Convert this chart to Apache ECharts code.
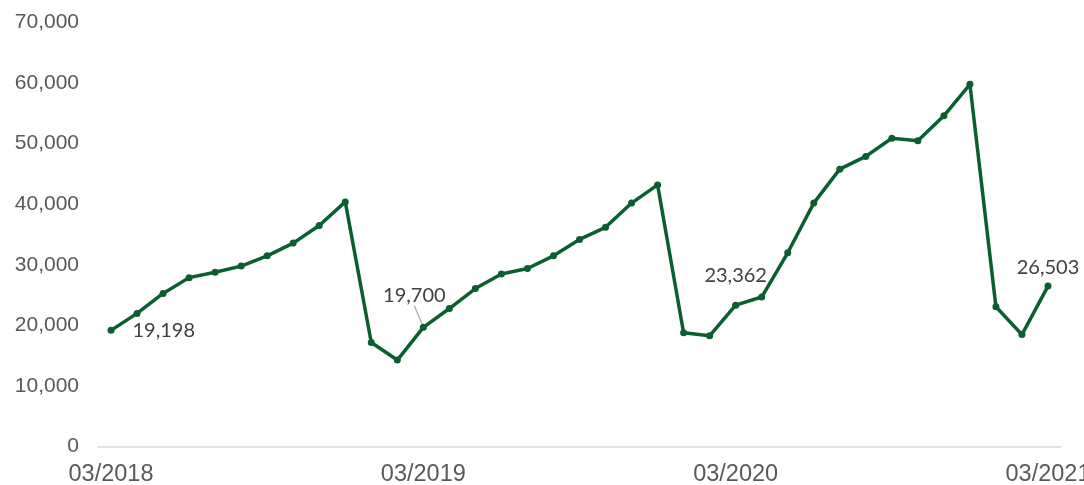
<!DOCTYPE html>
<html>
<head>
<meta charset="utf-8">
<script src="https://cdn.jsdelivr.net/npm/echarts@6/dist/echarts.min.js"></script>
<style>
  html, body { margin: 0; padding: 0; background: #fff; }
  #myChart { width: 1084px; height: 485px; }
</style>
</head>
<body>
<div id="myChart"></div>
<script>
// months 03/2018 .. 03/2021
var months = ['03/2018','04/2018','05/2018','06/2018','07/2018','08/2018','09/2018','10/2018','11/2018','12/2018','01/2019','02/2019',
              '03/2019','04/2019','05/2019','06/2019','07/2019','08/2019','09/2019','10/2019','11/2019','12/2019','01/2020','02/2020',
              '03/2020','04/2020','05/2020','06/2020','07/2020','08/2020','09/2020','10/2020','11/2020','12/2020','01/2021','02/2021',
              '03/2021'];
var values = [19198, 22000, 25300, 27900, 28800, 29800, 31500, 33600, 36500, 40400, 17200, 14300,
              19700, 22800, 26100, 28500, 29400, 31500, 34200, 36200, 40200, 43200, 18800, 18300,
              23362, 24700, 32000, 40200, 45800, 47900, 50900, 50500, 54600, 59800, 23100, 18500,
              26503];
// which points carry a value label
var labelled = [0, 12, 24, 36];

var lineColor = '#0b5e30';
var myChart = echarts.init(document.getElementById('myChart'));

var seriesData = values.map(function (v, i) {
  if (labelled.indexOf(i) < 0) return v;
  var lab = { show: true };
  var item = { value: v, label: lab };
  if (i === 0) { lab.position = 'right'; lab.distance = 18; lab.offset = [0, 2]; }
  else if (i === 12) { lab.position = 'top'; lab.distance = 6; item.labelLine = { show: true }; }
  else if (i === 24) { lab.position = 'top'; lab.distance = 16; lab.offset = [-6, 0]; }
  else { lab.position = 'top'; lab.distance = 5; lab.offset = [-6, 0]; }
  return item;
});

var option = {
  animation: false,
  grid: { left: 98, right: 23, top: 22.5, bottom: 38.3, outerBoundsMode: 'none' },
  xAxis: {
    type: 'category',
    data: months,
    boundaryGap: true,
    axisLine: { lineStyle: { color: '#d9d9d9', width: 1.5 } },
    axisTick: {
      interval: 11,
      length: 6,
      lineStyle: { color: '#d9d9d9', width: 1.5 }
    },
    axisLabel: {
      interval: 11,
      color: '#595959',
      fontFamily: 'Liberation Sans',
      fontSize: 23.5,
      margin: 16
    },
    splitLine: { show: false }
  },
  yAxis: {
    type: 'value',
    min: 0,
    max: 70000,
    interval: 10000,
    axisLine: { show: false },
    axisTick: { show: false },
    splitLine: { show: false },
    axisLabel: {
      color: '#595959',
      fontFamily: 'Liberation Sans',
      fontSize: 21,
      margin: 19,
      formatter: function (v) { return v.toLocaleString('en-US'); }
    }
  },
  series: [
    {
      type: 'line',
      data: seriesData,
      symbol: 'circle',
      symbolSize: 7,
      lineStyle: { color: lineColor, width: 3.5 },
      itemStyle: { color: lineColor },
      label: {
        show: false,
        color: '#404040',
        fontFamily: 'Lato',
        fontSize: 20,
        formatter: function (p) { return p.value.toLocaleString('en-US'); }
      },
      labelLine: { show: false, lineStyle: { color: '#a6a6a6', width: 1.2 } },
      labelLayout: function (params) {
        if (params.dataIndex === 12) {
          return { dx: -9, dy: -12 };
        }
        return {};
      }
    }
  ]
};
myChart.setOption(option);
</script>
</body>
</html>
